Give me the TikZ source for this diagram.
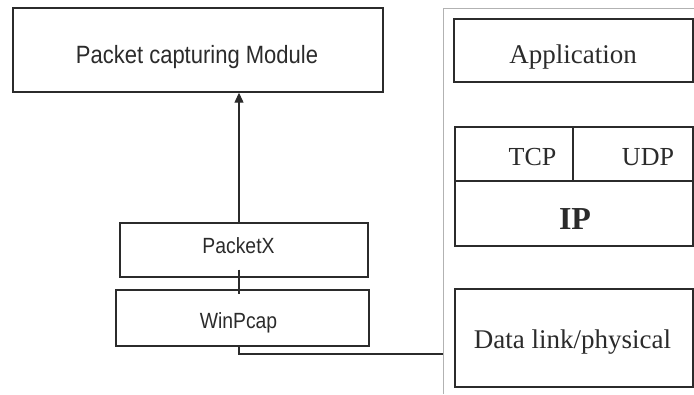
\documentclass[tikz,border=0pt]{standalone}
\usepackage{fontspec}
\usepackage{graphicx}
\setmainfont{Liberation Serif}
\newfontfamily\gulimface{Liberation Sans}
\usetikzlibrary{arrows.meta}
\definecolor{ink}{HTML}{2B2B2B}
\definecolor{framegray}{HTML}{B2B2B2}
% condensed sans labels
\newcommand\narrowtext[1]{\scalebox{0.88}[1]{#1}}
\begin{document}
\begin{tikzpicture}[x=1pt, y=-1pt,
  box/.style={draw=ink, line width=1.4pt, inner sep=0pt, fill=white},
  wire/.style={draw=ink, line width=1.2pt},
  sanslbl/.style={anchor=base, inner sep=0pt, text=ink, font=\gulimface\fontsize{22}{26}\selectfont},
  seriflbl/.style={anchor=base, inner sep=0pt, text=ink, font=\fontsize{27}{32}\selectfont},
  smallserif/.style={seriflbl, font=\fontsize{26}{31}\selectfont}]
\useasboundingbox (0,0) rectangle (694,394);
\fill[white] (0,0) rectangle (694,394);

% protocol stack frame
\draw[framegray, line width=1pt] (443,394) -- (443,8) -- (694,8);
\coordinate (stackedge) at (443,354);

% capture side
\node[box, minimum width=370pt, minimum height=84pt] (pcm) at (198,50) {};
\node[sanslbl, font=\gulimface\fontsize{25}{30}\selectfont] (pcmtxt) at (197,63) {\narrowtext{Packet capturing Module}};
\node[box, minimum width=248pt, minimum height=54pt] (packetx) at (244,250) {};
\node[sanslbl] (packetxtxt) at (238.5,253) {\narrowtext{PacketX}};
\node[box, minimum width=253pt, minimum height=56pt] (winpcap) at (242.5,318) {};
\node[sanslbl] (winpcaptxt) at (238.5,328) {\narrowtext{WinPcap}};
\coordinate (spine) at (239,0);

% stack layers
\node[box, minimum width=239pt, minimum height=63pt] (app) at (573.5,50.5) {};
\node[seriflbl] (apptxt) at (573,63) {Application};
\node[box, minimum width=118pt, minimum height=54pt] (tcp) at (514,154) {};
\node[box, minimum width=120pt, minimum height=54pt] (udp) at (633,154) {};
\node[smallserif] (tcptxt) at (532.5,165) {TCP};
\node[smallserif] (udptxt) at (648,165) {UDP};
\node[box, minimum width=238pt, minimum height=65pt] (ip) at (574,213.5) {};
\node[seriflbl, font=\bfseries\fontsize{32}{38}\selectfont] (iptxt) at (575,229) {IP};
\node[box, minimum width=238pt, minimum height=98pt] (dl) at (574,338) {};
\node[seriflbl] (dltxt) at (572.5,348) {Data link/physical};

% connectors
\draw[wire, -{Triangle[width=9pt,length=10pt]}] (spine |- packetx.north) -- (spine |- pcm.south);
\draw[wire, shorten <=-8pt, shorten >=-5pt] (spine |- packetx.south) -- (spine |- winpcap.north);
\draw[wire] (spine |- winpcap.south) |- (stackedge);
\end{tikzpicture}
\end{document}
